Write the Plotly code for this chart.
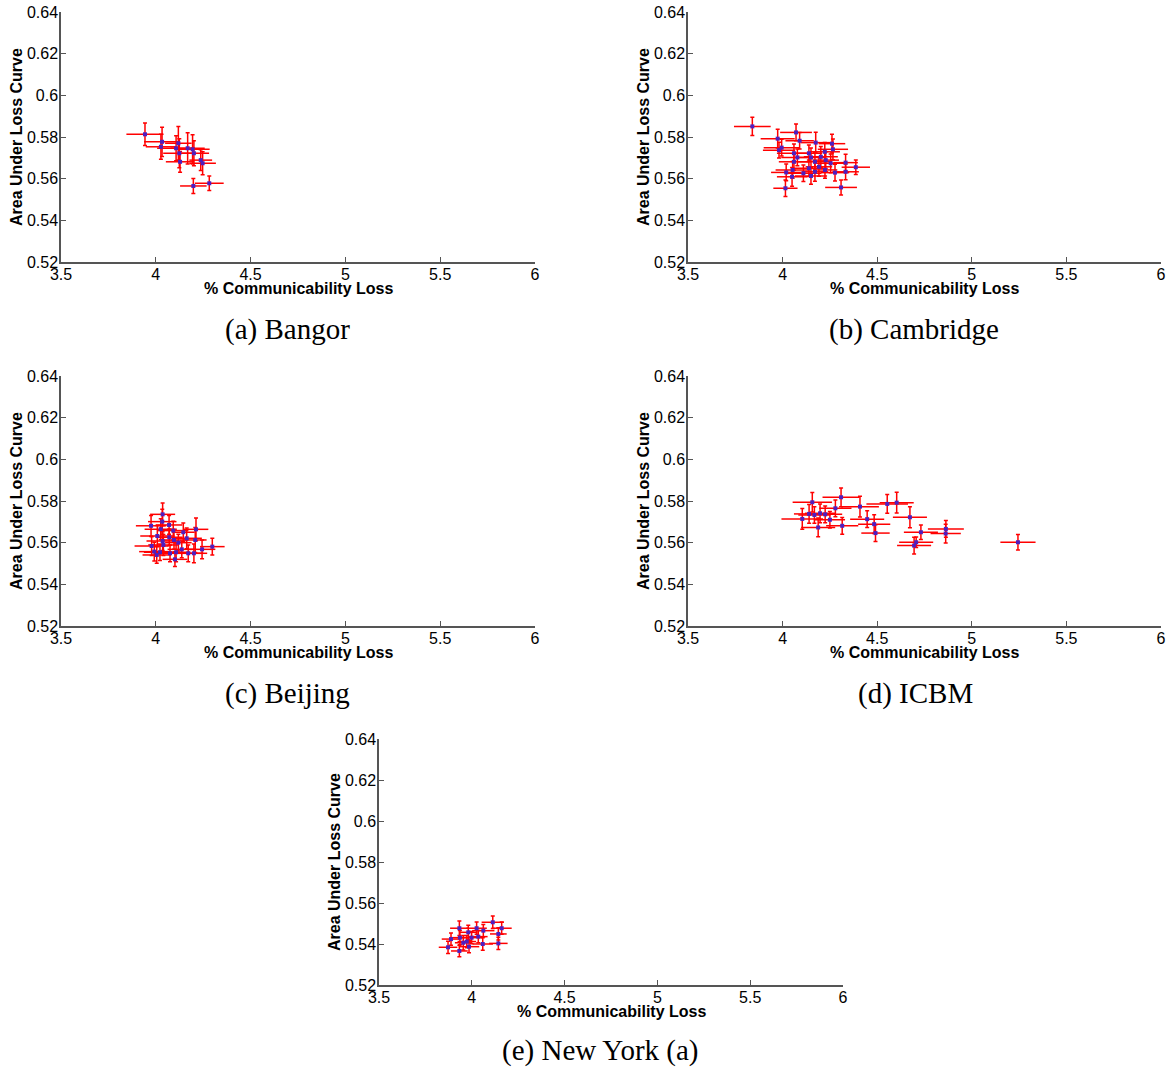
import plotly.graph_objects as go

# ---------------- data ----------------
# (a) Bangor
a_x = [3.943, 4.033, 4.027, 4.119, 4.107, 4.168, 4.124, 4.201, 4.194, 4.237, 4.247, 4.128, 4.198, 4.282]
a_y = [0.5813, 0.5777, 0.5753, 0.5770, 0.5746, 0.5746, 0.5722, 0.5722, 0.5741, 0.5689, 0.5674, 0.5681, 0.5565, 0.5578]
a_xerr = [0.098, 0.095, 0.080, 0.070, 0.100, 0.090, 0.085, 0.080, 0.090, 0.060, 0.070, 0.075, 0.070, 0.076]
a_yerr = [0.0054, 0.0070, 0.0060, 0.0080, 0.0060, 0.0075, 0.0070, 0.0060, 0.0070, 0.0050, 0.0055, 0.0050, 0.0036, 0.0035]

# (b) Cambridge
b_x = [3.840, 4.071, 3.974, 4.090, 4.175, 4.261, 3.995, 3.981, 4.266, 4.060, 4.139, 4.223,
       4.078, 4.150, 4.202, 4.060, 4.171, 4.228, 4.333, 4.254, 4.387, 4.053, 4.139, 4.192,
       4.019, 4.110, 4.171, 4.224, 4.277, 4.333, 4.050, 4.150, 4.015, 4.309]
b_y = [0.5851, 0.5822, 0.5792, 0.5782, 0.5773, 0.5768, 0.5749, 0.5737, 0.5741, 0.5722, 0.5722, 0.5729,
       0.5702, 0.5702, 0.5705, 0.5681, 0.5681, 0.5689, 0.5677, 0.5674, 0.5655, 0.5642, 0.5650, 0.5657,
       0.5630, 0.5626, 0.5633, 0.5642, 0.5629, 0.5633, 0.5609, 0.5613, 0.5554, 0.5558]
b_xerr = [0.097, 0.084, 0.090, 0.075, 0.080, 0.070, 0.095, 0.085, 0.080, 0.090, 0.070, 0.080,
          0.085, 0.075, 0.090, 0.080, 0.090, 0.070, 0.065, 0.080, 0.075, 0.090, 0.085, 0.070,
          0.080, 0.095, 0.070, 0.065, 0.075, 0.070, 0.080, 0.085, 0.064, 0.084]
b_yerr = [0.0044, 0.0040, 0.0045, 0.0040, 0.0050, 0.0045, 0.0040, 0.0038, 0.0050, 0.0045, 0.0040, 0.0045,
          0.0040, 0.0045, 0.0050, 0.0040, 0.0045, 0.0040, 0.0040, 0.0045, 0.0035, 0.0040, 0.0040, 0.0045,
          0.0040, 0.0040, 0.0045, 0.0040, 0.0040, 0.0038, 0.0045, 0.0040, 0.0040, 0.0036]

# (c) Beijing
c_x = [4.036, 3.975, 4.034, 4.070, 4.026, 4.145, 4.212, 4.092, 4.008, 4.071, 4.096, 4.163, 4.208, 4.036,
       4.119, 3.978, 4.040, 4.137, 4.244, 4.298, 3.992, 4.022, 4.075, 4.107, 4.171, 4.201, 4.005, 4.101]
c_y = [0.5736, 0.5681, 0.5701, 0.5685, 0.5665, 0.5650, 0.5664, 0.5658, 0.5632, 0.5626, 0.5613, 0.5621, 0.5613, 0.5608,
       0.5600, 0.5584, 0.5589, 0.5568, 0.5568, 0.5581, 0.5557, 0.5554, 0.5549, 0.5554, 0.5549, 0.5549, 0.5541, 0.5520]
c_xerr = [0.066, 0.080, 0.075, 0.070, 0.085, 0.060, 0.065, 0.080, 0.090, 0.070, 0.075, 0.080, 0.060, 0.085,
          0.070, 0.090, 0.080, 0.075, 0.070, 0.065, 0.080, 0.085, 0.070, 0.075, 0.080, 0.070, 0.075, 0.065]
c_yerr = [0.0055, 0.0050, 0.0060, 0.0045, 0.0050, 0.0045, 0.0055, 0.0045, 0.0050, 0.0040, 0.0045, 0.0050, 0.0060, 0.0045,
          0.0040, 0.0045, 0.0050, 0.0040, 0.0045, 0.0040, 0.0045, 0.0040, 0.0040, 0.0045, 0.0040, 0.0045, 0.0040, 0.0035]

# (d) ICBM
d_x = [4.157, 4.309, 4.409, 4.279, 4.553, 4.603, 4.168, 4.198, 4.225, 4.104, 4.250, 4.188,
       4.315, 4.447, 4.484, 4.491, 4.673, 4.731, 4.863, 4.862, 4.706, 4.695, 5.244, 4.140]
d_y = [0.5794, 0.5818, 0.5773, 0.5765, 0.5786, 0.5792, 0.5733, 0.5741, 0.5736, 0.5714, 0.5710, 0.5673,
       0.5681, 0.5713, 0.5689, 0.5646, 0.5722, 0.5650, 0.5666, 0.5644, 0.5602, 0.5586, 0.5602, 0.5738]
d_xerr = [0.104, 0.098, 0.100, 0.085, 0.110, 0.090, 0.085, 0.080, 0.090, 0.110, 0.080, 0.090,
          0.085, 0.090, 0.085, 0.075, 0.090, 0.090, 0.095, 0.080, 0.090, 0.090, 0.093, 0.080]
d_yerr = [0.0047, 0.0045, 0.0050, 0.0040, 0.0045, 0.0050, 0.0040, 0.0045, 0.0040, 0.0050, 0.0040, 0.0045,
          0.0040, 0.0040, 0.0045, 0.0040, 0.0050, 0.0035, 0.0040, 0.0045, 0.0025, 0.0040, 0.0037, 0.0045]

# (e) New York (a)
e_x = [4.113, 4.161, 3.933, 4.026, 4.062, 3.981, 4.143, 3.888, 3.936, 3.999, 4.035, 3.954,
       4.059, 4.143, 3.872, 3.985, 3.933, 3.973]
e_y = [0.5506, 0.5477, 0.5477, 0.5477, 0.5465, 0.5457, 0.5449, 0.5424, 0.5431, 0.5431, 0.5436, 0.5406,
       0.5400, 0.5403, 0.5384, 0.5387, 0.5366, 0.5412]
e_xerr = [0.060, 0.054, 0.050, 0.055, 0.060, 0.050, 0.045, 0.050, 0.055, 0.060, 0.050, 0.045,
          0.055, 0.050, 0.050, 0.055, 0.045, 0.050]
e_yerr = [0.0030, 0.0030, 0.0035, 0.0030, 0.0030, 0.0035, 0.0030, 0.0030, 0.0035, 0.0030, 0.0030, 0.0035,
          0.0030, 0.0030, 0.0030, 0.0030, 0.0028, 0.0030]

x_ticks = [3.5, 4, 4.5, 5, 5.5, 6]
x_ticktext = ["3.5", "4", "4.5", "5", "5.5", "6"]
y_ticks = [0.52, 0.54, 0.56, 0.58, 0.60, 0.62, 0.64]
y_ticktext = ["0.52", "0.54", "0.56", "0.58", "0.6", "0.62", "0.64"]

captions = ["(a) Bangor", "(b) Cambridge", "(c) Beijing", "(d) ICBM", "(e) New York (a)"]
x_title = "% Communicability Loss"
y_title = "Area Under Loss Curve"

# ---------------- layout geometry (pixels) ----------------
W, H = 1172, 1068
boxes = [(61, 535, 12, 262), (688, 1161, 12, 262),
         (61, 535, 376, 626), (688, 1161, 376, 626),
         (379, 843, 739, 985)]
caption_pos = [(287, 329), (914, 329), (287, 693), (915, 693), (600, 1050)]

series = [(a_x, a_y, a_xerr, a_yerr), (b_x, b_y, b_xerr, b_yerr), (c_x, c_y, c_xerr, c_yerr),
          (d_x, d_y, d_xerr, d_yerr), (e_x, e_y, e_xerr, e_yerr)]

fig = go.Figure()
layout = dict(template="none", width=W, height=H, margin=dict(l=0, r=0, t=0, b=0, pad=0),
              paper_bgcolor="white", plot_bgcolor="white", showlegend=False)
annotations = []
AX_COLOR = "#555555"
SANS = "Liberation Sans, Arial, sans-serif"
TICK_FONT = dict(family=SANS, size=16, color="black")

for i, ((xs, ys, xe, ye), (l, r, t, b)) in enumerate(zip(series, boxes)):
    n = "" if i == 0 else str(i + 1)
    fig.add_trace(go.Scatter(
        x=xs, y=ys, mode="markers",
        xaxis="x" + n, yaxis="y" + n,
        marker=dict(symbol="square", size=4, color="rgb(80,30,190)", line=dict(width=0)),
        error_x=dict(type="data", array=xe, visible=True, color="red", thickness=1.5, width=0),
        error_y=dict(type="data", array=ye, visible=True, color="red", thickness=1.5, width=2),
    ))
    xd = [l / W, r / W]
    yd = [1 - b / H, 1 - t / H]
    layout["xaxis" + n] = dict(
        domain=xd, anchor="y" + n, range=[3.5, 6], tickvals=x_ticks, ticktext=x_ticktext,
        automargin=False, showline=True, linecolor=AX_COLOR, linewidth=1.5, ticks="inside", ticklen=5,
        tickcolor=AX_COLOR, tickwidth=1, showgrid=False, zeroline=False, tickfont=TICK_FONT,
        ticklabelstandoff=-3)
    layout["yaxis" + n] = dict(
        domain=yd, anchor="x" + n, range=[0.52, 0.64], tickvals=y_ticks, ticktext=y_ticktext,
        automargin=False, showline=True, linecolor=AX_COLOR, linewidth=1.5, ticks="inside", ticklen=5,
        tickcolor=AX_COLOR, tickwidth=1, showgrid=False, zeroline=False, tickfont=TICK_FONT,
        ticklabelstandoff=-2)
    annotations.append(dict(text="<b>" + x_title + "</b>", xref="paper", yref="paper",
                            x=((l + r) / 2) / W, y=1 - (b + 26) / H, xanchor="center", yanchor="middle",
                            showarrow=False, font=dict(family=SANS, size=16, color="black")))
    annotations.append(dict(text="<b>" + y_title + "</b>", xref="paper", yref="paper",
                            x=(l - 45) / W, y=1 - ((t + b) / 2) / H, xanchor="center", yanchor="middle",
                            textangle=-90, showarrow=False, font=dict(family=SANS, size=16, color="black")))
    cx, cy = caption_pos[i]
    annotations.append(dict(text=captions[i], xref="paper", yref="paper", x=cx / W, y=1 - cy / H,
                            xanchor="center", yanchor="middle", showarrow=False,
                            font=dict(family="Liberation Serif, Times New Roman, serif", size=29, color="black")))

layout["annotations"] = annotations
fig.update_layout(**layout)
fig.write_html("out.html", config={"displayModeBar": False},
               post_script="document.body.style.margin='0';document.body.style.padding='0';")
